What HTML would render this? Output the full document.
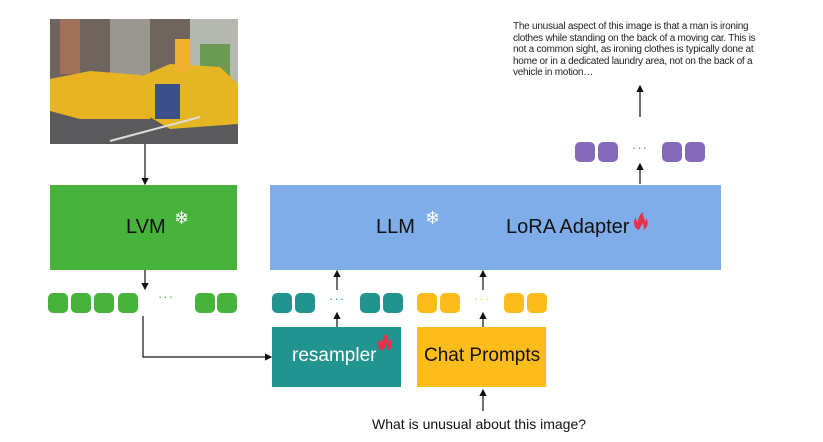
<!DOCTYPE html>
<html><head><meta charset="utf-8"><style>
body{margin:0;width:823px;height:442px;background:#fff;position:relative;overflow:hidden;font-family:"Liberation Sans",sans-serif}
.a{position:absolute}
.t{position:absolute;width:20px;height:20px;border-radius:5px}
.d{position:absolute;font-size:13px;letter-spacing:1px}
</style></head><body>
<svg class="a" style="left:50px;top:19px" width="188" height="125" viewBox="0 0 188 125">
<rect width="188" height="125" fill="#8a8a8a"/>
<rect width="188" height="60" fill="#6e665e"/>
<rect x="10" y="0" width="20" height="55" fill="#a0705a"/>
<rect x="60" y="0" width="40" height="60" fill="#9a9690"/>
<rect x="140" y="0" width="48" height="65" fill="#b5b8b0"/>
<rect x="150" y="25" width="30" height="35" fill="#6c9a55"/>
<polygon points="0,85 188,78 188,125 0,125" fill="#5a5a5c"/>
<polygon points="0,60 40,52 90,56 110,80 100,100 30,100 0,92" fill="#e8b320"/>
<polygon points="90,58 120,45 170,48 188,65 188,105 120,110 100,98" fill="#e5b523"/>
<rect x="125" y="20" width="15" height="32" fill="#f0b030"/>
<rect x="105" y="65" width="25" height="35" fill="#3b4f8a"/>
<line x1="60" y1="122" x2="150" y2="98" stroke="#ddd" stroke-width="2"/>
</svg>
<div class="a" style="left:50px;top:185px;width:187px;height:85px;background:#47b33b"></div>
<span class="a" style="left:126px;top:216px;font-size:20px;color:#111">LVM</span>
<span class="a" style="left:174px;top:208px;font-size:18px;color:#fff">❄</span>
<div class="a" style="left:270px;top:185px;width:451px;height:85px;background:#7eadea"></div>
<span class="a" style="left:376px;top:216px;font-size:20px;color:#111">LLM</span>
<span class="a" style="left:425px;top:208px;font-size:18px;color:#fff">❄</span>
<span class="a" style="left:506px;top:216px;font-size:20px;color:#111">LoRA Adapter</span>
<div class="a" style="left:272px;top:327px;width:129px;height:60px;background:#22948f"></div>
<span class="a" style="left:292px;top:345px;font-size:19px;color:#fff">resampler</span>
<div class="a" style="left:417px;top:327px;width:129px;height:60px;background:#fcbc1c"></div>
<span class="a" style="left:424px;top:345px;font-size:19px;color:#111">Chat Prompts</span>
<div class="t" style="left:48px;top:293px;background:#47b33b"></div><div class="t" style="left:71px;top:293px;background:#47b33b"></div><div class="t" style="left:94px;top:293px;background:#47b33b"></div><div class="t" style="left:118px;top:293px;background:#47b33b"></div><div class="t" style="left:195px;top:293px;background:#47b33b"></div><div class="t" style="left:217px;top:293px;background:#47b33b"></div>
<div class="t" style="left:272px;top:293px;background:#22948f"></div><div class="t" style="left:295px;top:293px;background:#22948f"></div><div class="t" style="left:360px;top:293px;background:#22948f"></div><div class="t" style="left:383px;top:293px;background:#22948f"></div>
<div class="t" style="left:417px;top:293px;background:#fcbc1c"></div><div class="t" style="left:440px;top:293px;background:#fcbc1c"></div><div class="t" style="left:504px;top:293px;background:#fcbc1c"></div><div class="t" style="left:527px;top:293px;background:#fcbc1c"></div>
<div class="t" style="left:575px;top:142px;background:#8669b8"></div><div class="t" style="left:598px;top:142px;background:#8669b8"></div><div class="t" style="left:662px;top:142px;background:#8669b8"></div><div class="t" style="left:685px;top:142px;background:#8669b8"></div>
<span class="d" style="left:158px;top:289px;color:#47b33b">···</span>
<span class="d" style="left:329px;top:291px;color:#22948f">···</span>
<span class="d" style="left:474px;top:291px;color:#fcbc1c">···</span>
<span class="d" style="left:632px;top:140px;color:#8669b8">···</span>
<svg class="a" style="left:0;top:0" width="823" height="442">
<defs><marker id="m" markerWidth="6" markerHeight="6" refX="5" refY="3" orient="auto"><path d="M0,0L6,3L0,6z" fill="#111"/></marker>
<path id="f" d="M6,18 C0,16 0,9 3,5 C3,8 4,10 5,10 C5,6 7,2 10,0 C9,4 12,6 12,10 C13,9 13,7 13,6 C16,10 15,16 10,18 C12,15 10,12 9,11 C9,14 7,15 6,18z" fill="#e8304a"/></defs>
<use href="#f" x="633" y="212"/>
<use href="#f" x="377" y="333"/>
<g stroke="#111" stroke-width="1.2" fill="none" marker-end="url(#m)">
<line x1="145" y1="144" x2="145" y2="184"/>
<line x1="145" y1="270" x2="145" y2="289"/>
<polyline points="143,316 143,357 271,357"/>
<line x1="337" y1="327" x2="337" y2="313"/>
<line x1="337" y1="290" x2="337" y2="271"/>
<line x1="483" y1="327" x2="483" y2="313"/>
<line x1="483" y1="290" x2="483" y2="271"/>
<line x1="483" y1="411" x2="483" y2="390"/>
<line x1="640" y1="184" x2="640" y2="164"/>
<line x1="640" y1="117" x2="640" y2="86"/>
</g></svg>
<div class="a" style="left:513px;top:21px;width:270px;font-size:10px;letter-spacing:-0.25px;line-height:11.5px;color:#222;white-space:nowrap">The unusual aspect of this image is that a man is ironing<br>clothes while standing on the back of a moving car. This is<br>not a common sight, as ironing clothes is typically done at<br>home or in a dedicated laundry area, not on the back of a<br>vehicle in motion…</div>
<div class="a" style="left:372px;top:416px;font-size:14px;color:#111">What is unusual about this image?</div>
</body></html>
